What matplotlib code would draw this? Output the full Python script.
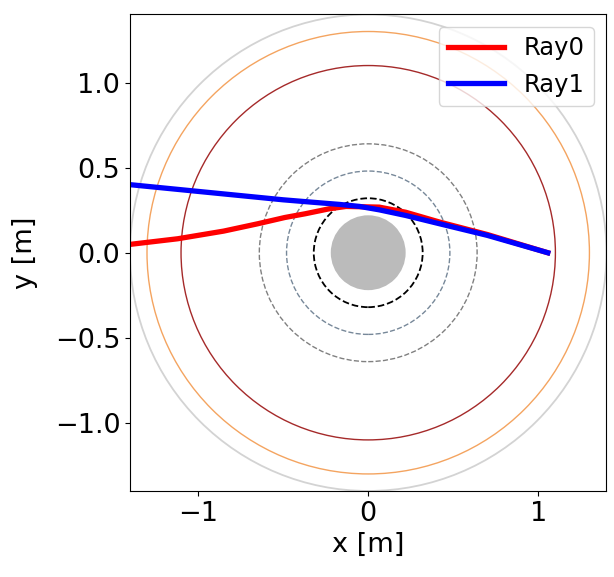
import numpy as np
from matplotlib import pyplot as plt

# ray paths traced through the layered medium
ray0_x = [-1.40, -1.12, -0.85, -0.65, -0.49, -0.37, -0.23, -0.13, 0.065, 0.22, 0.42, 0.70, 1.055]
ray0_y = [0.049, 0.082, 0.127, 0.170, 0.207, 0.229, 0.258, 0.272, 0.268, 0.238, 0.180, 0.107, 0.0]
ray1_x = [-1.40, -0.50, -0.33, -0.17, -0.05, 0.065, 0.22, 0.42, 0.70, 1.055]
ray1_y = [0.400, 0.311, 0.297, 0.284, 0.272, 0.252, 0.219, 0.170, 0.102, 0.0]

# layer boundaries (radius, colour, linestyle, linewidth)
core_r = 0.22
shell_r = [0.32, 0.48, 0.64, 1.10, 1.30, 1.40]
shell_c = ['black', 'lightslategray', 'gray', 'brown', 'sandybrown', 'lightgray']
shell_ls = ['--', '--', '--', '-', '-', '-']
shell_lw = [1.3, 1.0, 1.0, 1.0, 1.0, 1.3]

fig = plt.figure(figsize=(6.14, 5.77), dpi=100)
ax = fig.add_axes([0.2117, 0.148, 0.776, 0.828])

ax.add_patch(plt.Circle((0, 0), core_r, color='#bbbbbb', lw=0))
for r, c, ls, lw in zip(shell_r, shell_c, shell_ls, shell_lw):
    ax.add_patch(plt.Circle((0, 0), r, fill=False, ec=c, ls=ls, lw=lw))

ax.plot(ray0_x, ray0_y, color='red', lw=3.8, label='Ray0')
ax.plot(ray1_x, ray1_y, color='blue', lw=3.8, label='Ray1')

ax.set_xlim(-1.4, 1.4)
ax.set_ylim(-1.4, 1.4)
ax.set_aspect('equal')
ax.set_xticks([-1, 0, 1])
ax.set_yticks([-1.0, -0.5, 0.0, 0.5, 1.0])
ax.tick_params(labelsize=19.5)
ax.set_xlabel('x [m]', fontsize=19.5)
ax.set_ylabel('y [m]', fontsize=19.5, labelpad=12)
ax.legend(loc='upper right', fontsize=17.5, handlelength=2.3)

fig.savefig('out.png', dpi=100)
